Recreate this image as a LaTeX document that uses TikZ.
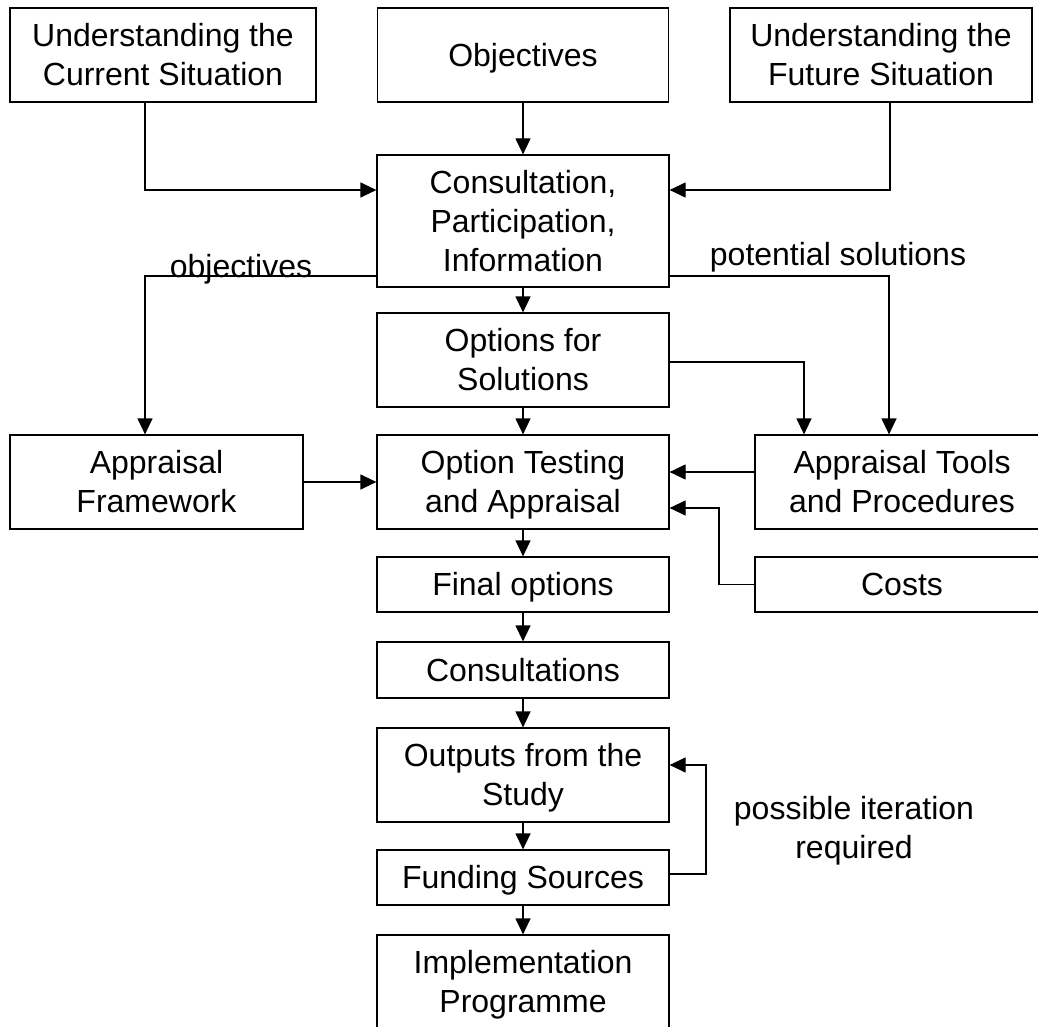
\documentclass[tikz,border=0pt]{standalone}
\usepackage{fontspec}
\setmainfont{Liberation Sans}
\usetikzlibrary{arrows.meta}
\newcommand{\mystrut}{\rule[-6.8pt]{0pt}{35.7pt}}
\begin{document}
\begin{tikzpicture}[x=1pt,y=-1pt,
  every node/.style={font=\fontsize{32}{39}\selectfont},
  box/.style={draw, line width=1.2pt, align=center, inner sep=0pt, minimum height=94pt, minimum width=292pt},
  lbl/.style={inner sep=0pt, align=center},
  arr/.style={line width=1.2pt, -{Triangle[length=16pt,width=15pt]}}
]
\useasboundingbox (0,0) rectangle (1038,1027);
% nodes
\node[box, minimum width=306pt] (ucs) at (163,55) {\mystrut Understanding the\\Current Situation\mystrut};
\node[box, minimum width=291pt] (obj) at (523,55) {\mystrut Objectives};
\node[box, minimum width=302pt] (ufs) at (881,55) {\mystrut Understanding the\\Future Situation\mystrut};
\node[box, minimum height=132pt] (cpi) at (523,221) {\mystrut Consultation,\\Participation,\\Information\mystrut};
\node[box] (ofs) at (523,360) {\mystrut Options for\\Solutions\mystrut};
\node[box, minimum width=293pt] (af) at (156.5,482) {\mystrut Appraisal\\Framework\mystrut};
\node[box] (ota) at (523,482) {\mystrut Option Testing\\and Appraisal\mystrut};
\node[box, minimum width=294pt] (atp) at (902,482) {\mystrut Appraisal Tools\\and Procedures\mystrut};
\node[box, minimum width=294pt, minimum height=55pt] (costs) at (902,584.5) {\mystrut Costs};
\node[box, minimum height=55pt] (fo) at (523,584.5) {\mystrut Final options};
\node[box, minimum height=56pt] (cons) at (523,670) {\mystrut Consultations};
\node[box] (out) at (523,775) {\mystrut Outputs from the\\Study\mystrut};
\node[box, minimum height=55pt] (fund) at (523,877.5) {\mystrut Funding Sources};
\node[box] (impl) at (523,982) {\mystrut Implementation\\Programme\mystrut};
% labels
\node[lbl, anchor=base] (lobj) at (241,277) {objectives};
\node[lbl, anchor=base] (lpot) at (838,265) {potential solutions};
\node[lbl] (liter) at (854,831) {possible iteration\\required};
% connectors
\draw[arr] (ucs.south -| 145,0) |- (cpi.west |- 0,190);
\draw[arr] (obj.south) -- (cpi.north);
\draw[arr] (ufs.south -| 890,0) |- (cpi.east |- 0,190);
\draw[arr] (cpi.west |- 0,276) -| (af.north -| 145,0);
\draw[arr] (cpi.east |- 0,276) -| (atp.north -| 889,0);
\draw[arr] (ofs.east |- 0,362) -| (atp.north -| 804,0);
\draw[arr] (cpi.south) -- (ofs.north);
\draw[arr] (ofs.south) -- (ota.north);
\draw[arr] (af.east) -- (ota.west);
\draw[arr] (atp.west |- 0,472) -- (ota.east |- 0,472);
\draw[arr] (costs.west) -| (719,508) -- (ota.east |- 0,508);
\draw[arr] (ota.south) -- (fo.north);
\draw[arr] (fo.south) -- (cons.north);
\draw[arr] (cons.south) -- (out.north);
\draw[arr] (out.south) -- (fund.north);
\draw[arr] (fund.south) -- (impl.north);
\draw[arr] (fund.east |- 0,874) -| (706,765) -- (out.east |- 0,765);
\end{tikzpicture}
\end{document}
